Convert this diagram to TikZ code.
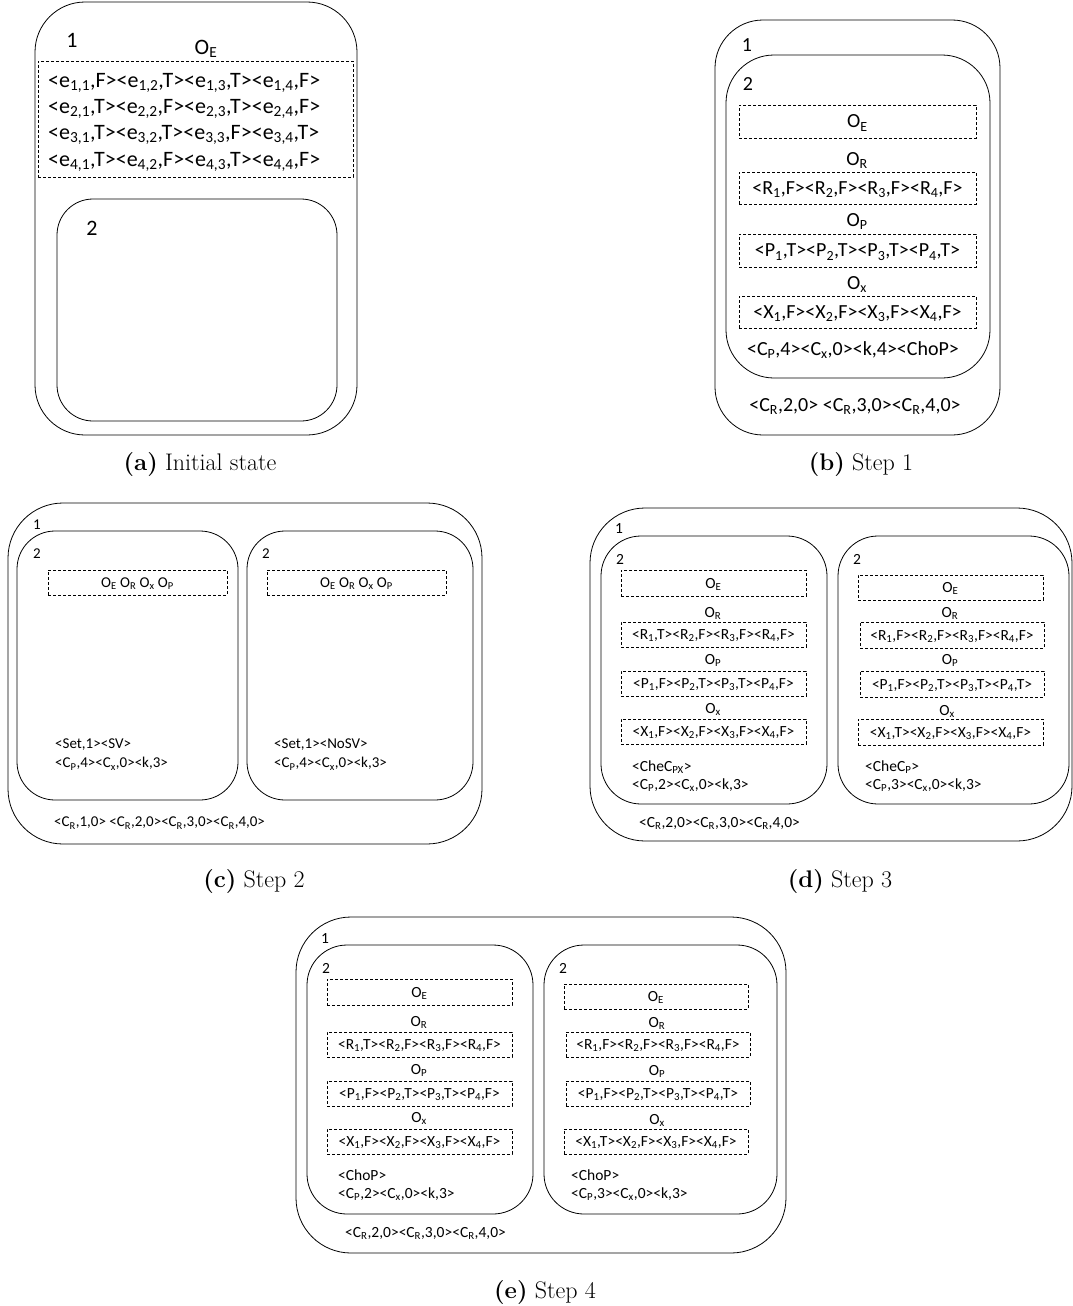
\documentclass[tikz,border=0pt]{standalone}
\usepackage{fontspec}
\newfontfamily\calib{Carlito}
\newcommand\sbs[1]{\textsubscript{#1}}
\tikzset{
  cont/.style={draw, line width=0.8pt},
  dbox/.style={draw, dash pattern=on 3pt off 2pt, line width=0.7pt, inner sep=0pt},
  fa/.style={font=\calib\fontsize{22}{26}\selectfont, text height=14.2pt, text depth=0pt, inner sep=0pt},
  fb/.style={font=\calib\fontsize{20}{24}\selectfont, text height=12.9pt, text depth=0pt, inner sep=0pt},
  fc/.style={font=\calib\fontsize{15}{18}\selectfont, text height=9.7pt, text depth=0pt, inner sep=0pt},
  fd/.style={font=\calib\fontsize{15.5}{18}\selectfont, text height=10pt, text depth=0pt, inner sep=0pt},
  capt/.style={font=\fontsize{24}{28}\selectfont, anchor=base, inner sep=0pt},
}
\begin{document}
\begin{tikzpicture}[x=1pt,y=-1pt]
\useasboundingbox (0,0) rectangle (1073,1306);

% ---------------- (a) ----------------
\draw[cont, rounded corners=50pt] (35,2) rectangle (357,435);
\node[fa] (a1) at (72,40) {1};
\node[fa] (aoe) at (206,47) {O\sbs{E}};
\node[dbox, minimum width=315pt, minimum height=116pt] (abox) at (195.5,119) {};
\node[fa, anchor=west] (ae1) at (48,80) {<e\sbs{1,1},F><e\sbs{1,2},T><e\sbs{1,3},T><e\sbs{1,4},F>};
\node[fa, anchor=west] (ae2) at (48,106) {<e\sbs{2,1},T><e\sbs{2,2},F><e\sbs{2,3},T><e\sbs{2,4},F>};
\node[fa, anchor=west] (ae3) at (48,132) {<e\sbs{3,1},T><e\sbs{3,2},T><e\sbs{3,3},F><e\sbs{3,4},T>};
\node[fa, anchor=west] (ae4) at (48,159) {<e\sbs{4,1},T><e\sbs{4,2},F><e\sbs{4,3},T><e\sbs{4,4},F>};
\draw[cont, rounded corners=36pt] (57,199) rectangle (337,421);
\node[fa] (a2) at (92,228) {2};
\node[capt] (capa) at (200,470) {\textbf{(a)} Initial state};

% ---------------- (b) ----------------
\draw[cont, rounded corners=48pt] (715,20) rectangle (1000,435);
\node[fb] (b1) at (747,45) {1};
\draw[cont, rounded corners=48pt] (726,55) rectangle (990,378);
\node[fb] (b2) at (748,84) {2};
\node[dbox, fb, minimum width=237pt, minimum height=33pt] (boe) at (857.5,121.5) {O\sbs{E}};
\node[fb] (bor) at (857,159) {O\sbs{R}};
\node[dbox, fb, minimum width=237pt, minimum height=32pt] (brb) at (857.5,188) {<R\sbs{1},F><R\sbs{2},F><R\sbs{3},F><R\sbs{4},F>};
\node[fb] (bop) at (857,220) {O\sbs{P}};
\node[dbox, fb, minimum width=237pt, minimum height=33pt] (bpb) at (857.5,250.5) {<P\sbs{1},T><P\sbs{2},T><P\sbs{3},T><P\sbs{4},T>};
\node[fb] (box) at (857,283) {O\sbs{x}};
\node[dbox, fb, minimum width=237pt, minimum height=32pt] (bxb) at (857.5,312) {<X\sbs{1},F><X\sbs{2},F><X\sbs{3},F><X\sbs{4},F>};
\node[fb] (bcp) at (853,349) {<C\sbs{P},4><C\sbs{x},0><k,4><ChoP>};
\node[fb] (bcr) at (855,405) {<C\sbs{R},2,0> <C\sbs{R},3,0><C\sbs{R},4,0>};
\node[capt] (capb) at (861,470) {\textbf{(b)} Step 1};

% ---------------- (c) ----------------
\draw[cont, rounded corners=55pt] (8,503) rectangle (482,844);
\node[fc] (c1) at (37,525) {1};
\draw[cont, rounded corners=38pt] (17,531) rectangle (238,800);
\node[fc] (c2l) at (37,554) {2};
\node[dbox, fc, minimum width=179pt, minimum height=25pt] (cbl) at (137.5,582.5) {O\sbs{E} O\sbs{R} O\sbs{x} O\sbs{P}};
\node[fc, anchor=west] (csl) at (55,744) {<Set,1><SV>};
\node[fc, anchor=west] (ccl) at (55,763) {<C\sbs{P},4><C\sbs{x},0><k,3>};
\draw[cont, rounded corners=38pt] (247,531) rectangle (473,800);
\node[fc] (c2r) at (266,554) {2};
\node[dbox, fc, minimum width=179pt, minimum height=25pt] (cbr) at (356.5,582.5) {O\sbs{E} O\sbs{R} O\sbs{x} O\sbs{P}};
\node[fc, anchor=west] (csr) at (274,744) {<Set,1><NoSV>};
\node[fc, anchor=west] (ccr) at (274,763) {<C\sbs{P},4><C\sbs{x},0><k,3>};
\node[fc, anchor=west] (ccrb) at (54,822) {<C\sbs{R},1,0> <C\sbs{R},2,0><C\sbs{R},3,0><C\sbs{R},4,0>};
\node[capt] (capc) at (254,887) {\textbf{(c)} Step 2};

% ---------------- (d) ----------------
\draw[cont, rounded corners=55pt] (590,508) rectangle (1072,841);
\node[fd] (d1) at (619,528) {1};
\draw[cont, rounded corners=40pt] (601,536) rectangle (827,804);
\node[fd] (d2l) at (620,559) {2};
\node[dbox, fd, minimum width=185pt, minimum height=26pt] (dle) at (713.5,583) {O\sbs{E}};
\node[fd] (dlor) at (713,612) {O\sbs{R}};
\node[dbox, fd, minimum width=185pt, minimum height=25pt] (dlr) at (713.5,634.5) {<R\sbs{1},T><R\sbs{2},F><R\sbs{3},F><R\sbs{4},F>};
\node[fd] (dlop) at (713,659) {O\sbs{P}};
\node[dbox, fd, minimum width=185pt, minimum height=25pt] (dlp) at (713.5,683.5) {<P\sbs{1},F><P\sbs{2},T><P\sbs{3},T><P\sbs{4},F>};
\node[fd] (dlox) at (713,708) {O\sbs{x}};
\node[dbox, fd, minimum width=185pt, minimum height=25pt] (dlx) at (713.5,731.5) {<X\sbs{1},F><X\sbs{2},F><X\sbs{3},F><X\sbs{4},F>};
\node[fd, anchor=west] (dlch) at (632,766) {<CheC\sbs{PX}>};
\node[fd, anchor=west] (dlc) at (632,784) {<C\sbs{P},2><C\sbs{x},0><k,3>};
\draw[cont, rounded corners=40pt] (838,536) rectangle (1069,804);
\node[fd] (d2r) at (857,559) {2};
\node[dbox, fd, minimum width=185pt, minimum height=25pt] (dre) at (950.5,587.5) {O\sbs{E}};
\node[fd] (dror) at (950,612) {O\sbs{R}};
\node[dbox, fd, minimum width=184pt, minimum height=26pt] (drr) at (952,635) {<R\sbs{1},F><R\sbs{2},F><R\sbs{3},F><R\sbs{4},F>};
\node[fd] (drop) at (950,659) {O\sbs{P}};
\node[dbox, fd, minimum width=184pt, minimum height=26pt] (drp) at (952,684) {<P\sbs{1},F><P\sbs{2},T><P\sbs{3},T><P\sbs{4},T>};
\node[fd] (drox) at (947,710) {O\sbs{x}};
\node[dbox, fd, minimum width=185pt, minimum height=26pt] (drx) at (950.5,732) {<X\sbs{1},T><X\sbs{2},F><X\sbs{3},F><X\sbs{4},F>};
\node[fd, anchor=west] (drch) at (865,766) {<CheC\sbs{P}>};
\node[fd, anchor=west] (drc) at (865,784) {<C\sbs{P},3><C\sbs{x},0><k,3>};
\node[fd, anchor=west] (dcr) at (639,822) {<C\sbs{R},2,0><C\sbs{R},3,0><C\sbs{R},4,0>};
\node[capt] (capd) at (840,887) {\textbf{(d)} Step 3};

% ---------------- (e) ----------------
\draw[cont, rounded corners=55pt] (296,917) rectangle (786,1253);
\node[fd] (e1) at (325,938) {1};
\draw[cont, rounded corners=40pt] (307,945) rectangle (533,1214);
\node[fd] (e2l) at (326,968) {2};
\node[dbox, fd, minimum width=185pt, minimum height=26pt] (ele) at (419.5,992) {O\sbs{E}};
\node[fd] (elor) at (419,1021) {O\sbs{R}};
\node[dbox, fd, minimum width=185pt, minimum height=25pt] (elr) at (419.5,1044.5) {<R\sbs{1},T><R\sbs{2},F><R\sbs{3},F><R\sbs{4},F>};
\node[fd] (elop) at (419,1069) {O\sbs{P}};
\node[dbox, fd, minimum width=185pt, minimum height=25pt] (elp) at (419.5,1093.5) {<P\sbs{1},F><P\sbs{2},T><P\sbs{3},T><P\sbs{4},F>};
\node[fd] (elox) at (419,1117) {O\sbs{x}};
\node[dbox, fd, minimum width=185pt, minimum height=25pt] (elx) at (419.5,1141.5) {<X\sbs{1},F><X\sbs{2},F><X\sbs{3},F><X\sbs{4},F>};
\node[fd, anchor=west] (elch) at (338,1175) {<ChoP>};
\node[fd, anchor=west] (elc) at (338,1193) {<C\sbs{P},2><C\sbs{x},0><k,3>};
\draw[cont, rounded corners=40pt] (544,945) rectangle (777,1214);
\node[fd] (e2r) at (563,968) {2};
\node[dbox, fd, minimum width=184pt, minimum height=25pt] (ere) at (656,996.5) {O\sbs{E}};
\node[fd] (eror) at (657,1022) {O\sbs{R}};
\node[dbox, fd, minimum width=184pt, minimum height=25pt] (err) at (658,1044.5) {<R\sbs{1},F><R\sbs{2},F><R\sbs{3},F><R\sbs{4},F>};
\node[fd] (erop) at (657,1070) {O\sbs{P}};
\node[dbox, fd, minimum width=184pt, minimum height=25pt] (erp) at (658,1093.5) {<P\sbs{1},F><P\sbs{2},T><P\sbs{3},T><P\sbs{4},T>};
\node[fd] (erox) at (657,1119) {O\sbs{x}};
\node[dbox, fd, minimum width=184pt, minimum height=25pt] (erx) at (656,1141.5) {<X\sbs{1},T><X\sbs{2},F><X\sbs{3},F><X\sbs{4},F>};
\node[fd, anchor=west] (erch) at (571,1175) {<ChoP>};
\node[fd, anchor=west] (erc) at (571,1193) {<C\sbs{P},3><C\sbs{x},0><k,3>};
\node[fd, anchor=west] (ecr) at (345,1232) {<C\sbs{R},2,0><C\sbs{R},3,0><C\sbs{R},4,0>};
\node[capt] (cape) at (545,1298) {\textbf{(e)} Step 4};
\end{tikzpicture}
\end{document}
